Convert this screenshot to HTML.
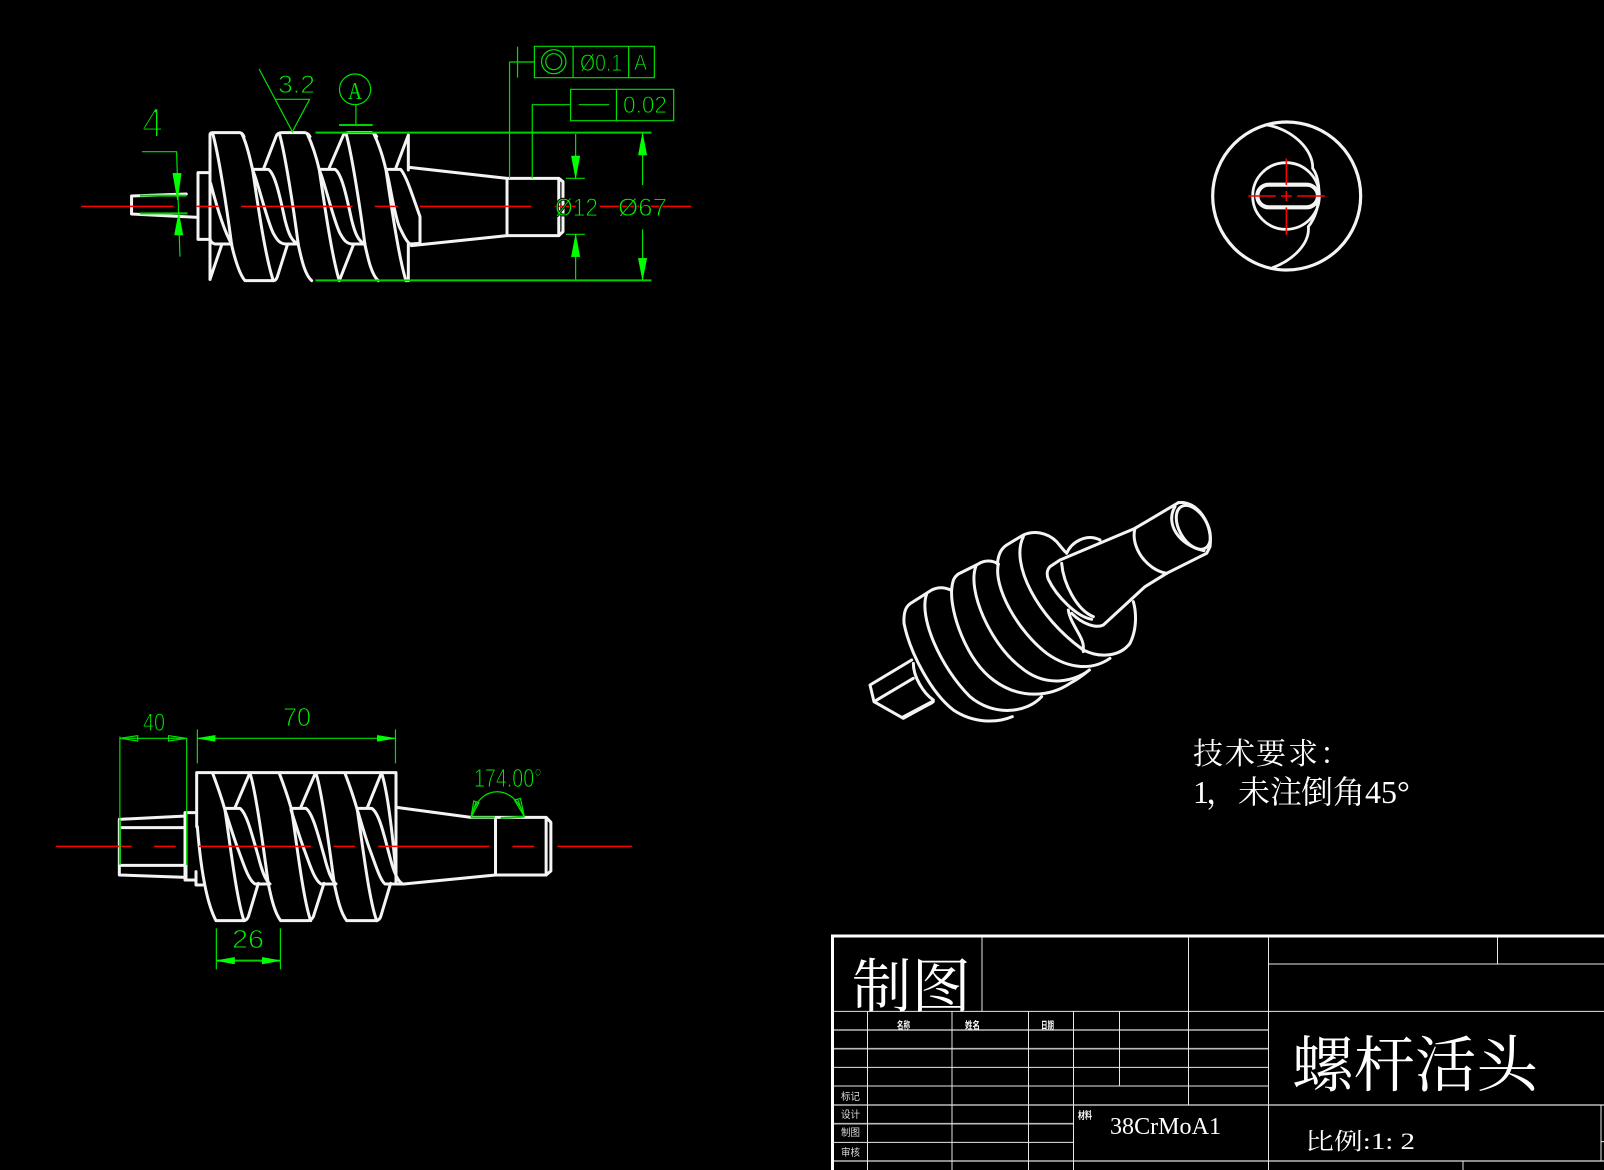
<!DOCTYPE html>
<html><head><meta charset="utf-8"><style>
html,body{margin:0;padding:0;background:#000;width:1604px;height:1170px;overflow:hidden}
svg{display:block}
svg *{vector-effect:non-scaling-stroke}
.w{fill:none;stroke:#f4f4f4;stroke-width:3;stroke-linejoin:round;stroke-linecap:round}
.g{fill:none;stroke:#00e000;stroke-width:1.2}
.gb{fill:none;stroke:#00d000;stroke-width:2}
.a{fill:#00ff00;stroke:#00ff00;stroke-width:.5}
.r{fill:none;stroke:#f00;stroke-width:1.5}
.l{fill:none;stroke:#e6e6e6;stroke-width:1}
.lb{fill:none;stroke:#bbb;stroke-width:1.6}
text{font-family:"Liberation Sans","Noto Sans CJK SC",sans-serif}
.gt{fill:#00f000;stroke:#000;stroke-width:.9}
.s{font-family:"Liberation Serif","Noto Serif CJK SC",serif;fill:#fff}
.st{font-family:"Liberation Sans","Noto Sans CJK SC",sans-serif;fill:#ddd;font-size:10px}
</style></head><body>
<svg width="1604" height="1170" viewBox="0 0 1604 1170" xmlns="http://www.w3.org/2000/svg">
<rect width="1604" height="1170" fill="#000"/>

<!-- TOP VIEW -->
<g transform="translate(60,30) scale(0.42092,0.33333)">
 <g class="w">
  <path d="M300,492 L170,498 V552 L328,562"/>
  <path d="M830,412 L1062,445 H1185 L1195,455 V605 L1185,617 H1062 L835,647"/>
  <path d="M1062,445 V617 M1185,445 V617"/>
 </g>
</g>
<g transform="translate(190,120) scale(.33333)" class="w">
 <path d="M60,158H24V358H60"/>
 <path d="M60,478V45Q60,38 68,38H150Q158,40 162,50"/>
 <path d="M68,40C85,100 110,260 125,375C135,420 150,465 165,482H250Q258,482 262,470L292,375"/>
 <path d="M155,40C170,70 180,115 188,150C200,230 225,410 250,482"/>
 <path d="M222,143L258,50Q262,38 275,38H345Q355,40 360,50"/>
 <path d="M268,40C285,100 310,260 325,375C335,420 345,465 365,482"/>
 <path d="M352,42C370,80 380,115 388,150C400,230 425,410 448,482L490,375"/>
 <path d="M418,143L458,50Q462,38 475,38H545Q555,40 560,50"/>
 <path d="M468,40C485,100 510,260 525,375C535,420 545,465 565,482"/>
 <path d="M552,42C570,80 580,115 588,150C600,230 625,410 648,482"/>
 <path d="M618,143L655,45V150M655,372V480M648,482H656"/>
 <path d="M62,190C75,240 100,330 125,372H75Q62,370 60,355M60,478L95,375"/>
 <path d="M188,148H235C255,160 270,230 285,300C295,340 305,365 325,372H285C270,370 262,362 250,340C230,300 205,190 190,155"/>
 <path d="M388,148H435C455,160 470,230 485,300C495,340 505,365 525,372H485C470,370 462,362 450,340C430,300 405,190 390,155"/>
 <path d="M588,148H632C650,170 665,220 690,290V370L660,372C650,366 640,345 628,320C612,280 600,190 590,155"/>
</g>
<g transform="translate(60,30) scale(0.42092,0.33333)">
 <g class="r"><path d="M50,529H270M325,529H378M430,529H695M748,529H803M855,529H1120M1175,529H1225M1282,529H1500"/></g>
 <g class="gb"><path d="M607,308H1405M607,751H1405M663,285H743M190,497H300M190,550H303"/></g>
 <g class="g">
  <path d="M1384,310V465M1384,598V750M1225,312V445M1202,445H1247M1202,613H1247M1225,613V748"/>
  <path d="M195,365H277L285,680"/>
  <path d="M1087,50V143M1068,96H1127M1068,96V445M1122,445V224H1213"/>
  <path d="M473,117L552,305L593,208H510"/>
  <path d="M703,225V285"/>
  <rect x="1127" y="49" width="285" height="94"/><path d="M1219,49V143M1351,49V143"/>
  <rect x="1213" y="178" width="245" height="94"/><path d="M1322,178V272M1232,224H1305"/>
  <ellipse cx="1173" cy="95" rx="29" ry="36"/><ellipse cx="1173" cy="95" rx="19" ry="24"/>
  <ellipse cx="701" cy="178" rx="37" ry="46"/>
 </g>
 <g class="a">
  <path d="M1384,310L1374,375H1394Z M1384,750L1374,685H1394Z M1225,445L1215,378H1235Z M1225,613L1215,680H1235Z M279,510L268,430H288Z M282,548L272,615H292Z"/>
 </g>
</g>
<text class="gt" x="142" y="137" font-size="42" style="stroke-width:2" textLength="21" lengthAdjust="spacingAndGlyphs">4</text>
<text class="gt" x="278" y="93" font-size="25" textLength="37" lengthAdjust="spacingAndGlyphs">3.2</text>
<text x="348" y="99" font-size="24" fill="#00e000" style="font-family:'Liberation Serif',serif" textLength="14" lengthAdjust="spacingAndGlyphs">A</text>
<text class="gt" x="580" y="71" font-size="24" textLength="42" lengthAdjust="spacingAndGlyphs">Ø0.1</text>
<text class="gt" x="634" y="70" font-size="22" textLength="13" lengthAdjust="spacingAndGlyphs">A</text>
<text class="gt" x="623" y="113" font-size="24" textLength="44" lengthAdjust="spacingAndGlyphs">0.02</text>
<text class="gt" x="555" y="216" font-size="25" textLength="43" lengthAdjust="spacingAndGlyphs">Ø12</text>
<text class="gt" x="618" y="216" font-size="25" textLength="49" lengthAdjust="spacingAndGlyphs">Ø67</text>

<!-- FRONT VIEW -->
<g transform="translate(40,690) scale(0.39541,0.33333)" class="w">
 <path d="M902,352L1090,382H1280L1292,397V543L1280,555H1152L920,582"/>
 <path d="M1152,385V555M1280,385V555"/>
</g>
<g transform="translate(100,790) scale(.33333)" class="w">
 <path d="M58,88L258,78M58,255L258,262M58,88V255M58,113H258M58,226H258M258,70V270"/>
</g>
<g transform="translate(180,760) scale(.33333)" class="w">
 <path d="M15,158H48M15,360H48M15,158V360M48,335V375H68"/>
 <path d="M50,38H648V370M50,38V200"/>
 <path d="M52,200C60,300 75,420 108,482H190Q200,482 205,470L235,370"/>
 <path d="M98,40C115,85 125,115 135,150C150,250 170,420 192,482"/>
 <path d="M165,143L208,42"/>
 <path d="M210,40C230,100 255,300 265,372C275,420 285,460 302,482H385Q395,480 400,470L432,370"/>
 <path d="M298,40C315,85 325,115 335,150C350,250 370,420 392,482"/>
 <path d="M362,143L405,42"/>
 <path d="M408,40C428,100 453,300 463,372C473,420 483,460 500,482H590Q598,480 602,470L632,370"/>
 <path d="M495,40C512,85 522,115 532,150C547,250 567,420 590,482"/>
 <path d="M562,143L603,42"/>
 <path d="M605,40C625,100 640,250 648,340"/>
 <path d="M135,145H180C200,160 215,220 235,290C245,330 255,360 270,372H225C205,360 190,310 175,270C160,230 145,180 135,150"/>
 <path d="M333,145H378C398,160 413,220 433,290C443,330 453,360 468,372H423C403,360 388,310 373,270C358,230 343,180 333,150"/>
 <path d="M532,145H575C600,160 615,240 635,310C645,345 655,365 668,372H615C600,360 585,310 570,270C555,230 542,180 532,150"/>
</g>
<g transform="translate(40,690) scale(0.39541,0.33333)">
 <g class="r"><path d="M40,469H232M288,469H343M402,469H685M742,469H797M855,469H1137M1195,469H1250M1308,469H1497"/></g>
 <g class="g">
  <path d="M202,140V525M371,145V525M202,145H371"/>
  <path d="M202,145L247,137V153Z M371,145L325,137V153Z"/>
  <path d="M398,118V220M899,118V220M398,145H899"/>
  <path d="M446,715V838M608,715V838"/>
  <path d="M1090,382C1110,280 1200,280 1225,380"/>
  <path d="M1090,382L1097,333L1110,338Z M1090,382L1103,335 M1225,380L1200,330L1215,325Z M1225,380L1208,328"/>
 </g>
 <g class="gb"><path d="M446,812H608M1090,382H1150M1165,384L1225,380M202,390V522"/></g>
 <g class="a"><path d="M398,145L443,136V154Z M899,145L853,136V154Z M446,812L492,802V822Z M608,812L562,802V822Z"/></g>
</g>
<text class="gt" x="143" y="731" font-size="25" textLength="22" lengthAdjust="spacingAndGlyphs">40</text>
<text class="gt" x="283" y="726" font-size="26" textLength="28" lengthAdjust="spacingAndGlyphs">70</text>
<text class="gt" x="474" y="787" font-size="26" textLength="68" lengthAdjust="spacingAndGlyphs">174.00°</text>
<text class="gt" x="232" y="948" font-size="26" textLength="32" lengthAdjust="spacingAndGlyphs">26</text>

<!-- ISOMETRIC -->
<g transform="translate(850,490) scale(.33333)" class="w">
 <ellipse cx="1030" cy="112" rx="42" ry="72" transform="rotate(-30 1030 112)"/>
 <path d="M975,50C945,100 985,165 1062,182"/>
 <path d="M985,38C1040,30 1090,100 1080,170L1070,190L950,250"/>
 <path d="M985,38L855,115L630,210L600,230C590,240 590,255 595,268C620,320 680,380 725,388"/>
 <path d="M950,250L885,290L760,405C740,415 700,405 665,370"/>
 <path d="M855,115C840,170 890,240 950,250"/>
 <path d="M635,220C640,280 680,360 730,380"/>
 <path d="M650,190C665,155 710,130 750,150"/>
 <path d="M162,400C160,360 170,345 190,335L245,300C265,290 285,292 302,300"/>
 <path d="M305,298C308,270 312,262 325,252L385,222C405,208 430,212 445,222"/>
 <path d="M442,222C445,190 455,175 470,165L520,135C550,122 590,125 620,155L645,185"/>
 <path d="M162,400C180,490 245,610 310,660C370,700 440,700 487,680"/>
 <path d="M230,312C205,380 270,530 360,620C430,680 530,670 575,620"/>
 <path d="M305,298C300,370 350,510 430,570C510,630 600,620 660,580C680,570 700,555 718,540"/>
 <path d="M378,228C350,300 420,460 510,530C590,600 680,570 718,540"/>
 <path d="M445,222C430,290 500,420 590,490C660,540 730,540 780,505"/>
 <path d="M520,140C480,220 560,380 700,480C750,505 810,500 840,460C860,420 860,370 850,335"/>
 <path d="M655,360C660,400 700,440 700,470V485"/>
 <path d="M185,510L60,585L72,635L160,685L250,635"/>
 <path d="M72,635L190,565"/>
 <path d="M190,520C190,560 220,610 250,630"/>
 <path d="M160,682L245,637" style="stroke-width:4"/>
</g>

<!-- END VIEW -->
<g transform="translate(1190,110) scale(.33333)">
 <g class="w" style="stroke-width:3.2">
  <circle cx="290" cy="258" r="222"/>
  <circle cx="288" cy="258" r="100" style="stroke-width:2.8"/>
  <path d="M232,45C310,60 370,120 368,175C395,210 395,300 355,350C360,400 310,450 248,473" style="stroke-width:2.8"/>
  <rect x="202" y="224" width="182" height="68" rx="34" ry="34" style="stroke-width:4.2"/>
 </g>
 <g class="r"><path d="M175,258H257M273,258H305M322,258H405M289,145V225M289,243V273M289,292V375"/></g>
</g>

<!-- NOTES -->
<text class="s" x="1193 1225 1256 1288 1320" y="764" font-size="30">技术要求：</text>
<text class="s" x="1193 1206 1238 1270 1301 1333 1365 1381 1397" y="803" font-size="32">1，未注倒角45°</text>

<!-- TITLE BLOCK -->
<g transform="translate(820,920) scale(.5,.33333)">
 <path d="M25,750V48H1568" style="fill:none;stroke:#fff;stroke-width:3"/>
 <g class="l"><path d="M28,274H1568M28,442H897M28,498H897M28,667H507M897,132H1568"/></g>
 <g class="lb"><path d="M28,330H897M28,386H897M28,555H1568M28,611H507M28,723H1568"/></g>
 <g class="l"><path d="M95,274V750M264,274V750M324,52V274M417,274V750M507,274V750M599,274V498M737,52V555M897,52V750M1355,52V132M1286,723V750M1562,555V723M1562,665H1568"/></g>
</g>
<text class="s" x="852" y="1007" font-size="59" textLength="119" lengthAdjust="spacingAndGlyphs">制图</text>
<text class="s" x="1292" y="1086" font-size="61" textLength="246" lengthAdjust="spacingAndGlyphs">螺杆活头</text>
<text class="s" x="1110" y="1134" font-size="24" fill="#ddd" textLength="111" lengthAdjust="spacingAndGlyphs">38CrMoA1</text>
<text class="s" x="1305" y="1149" font-size="23" textLength="110" lengthAdjust="spacingAndGlyphs">比例:1: 2</text>
<text class="st" x="841" y="1100" textLength="19" lengthAdjust="spacingAndGlyphs">标记</text>
<text class="st" x="841" y="1118" textLength="19" lengthAdjust="spacingAndGlyphs">设计</text>
<text class="st" x="841" y="1136" textLength="19" lengthAdjust="spacingAndGlyphs">制图</text>
<text class="st" x="841" y="1156" textLength="19" lengthAdjust="spacingAndGlyphs">审核</text>
<text class="st" x="897" y="1029" font-weight="bold" style="fill:#fff" textLength="13" lengthAdjust="spacingAndGlyphs">名称</text>
<text class="st" x="965" y="1029" font-weight="bold" style="fill:#fff" textLength="15" lengthAdjust="spacingAndGlyphs">姓名</text>
<text class="st" x="1041" y="1029" font-weight="bold" style="fill:#fff" textLength="13" lengthAdjust="spacingAndGlyphs">日期</text>
<text class="st" x="1078" y="1119" font-weight="bold" style="fill:#fff" textLength="14" lengthAdjust="spacingAndGlyphs">材料</text>
</svg>
</body></html>
